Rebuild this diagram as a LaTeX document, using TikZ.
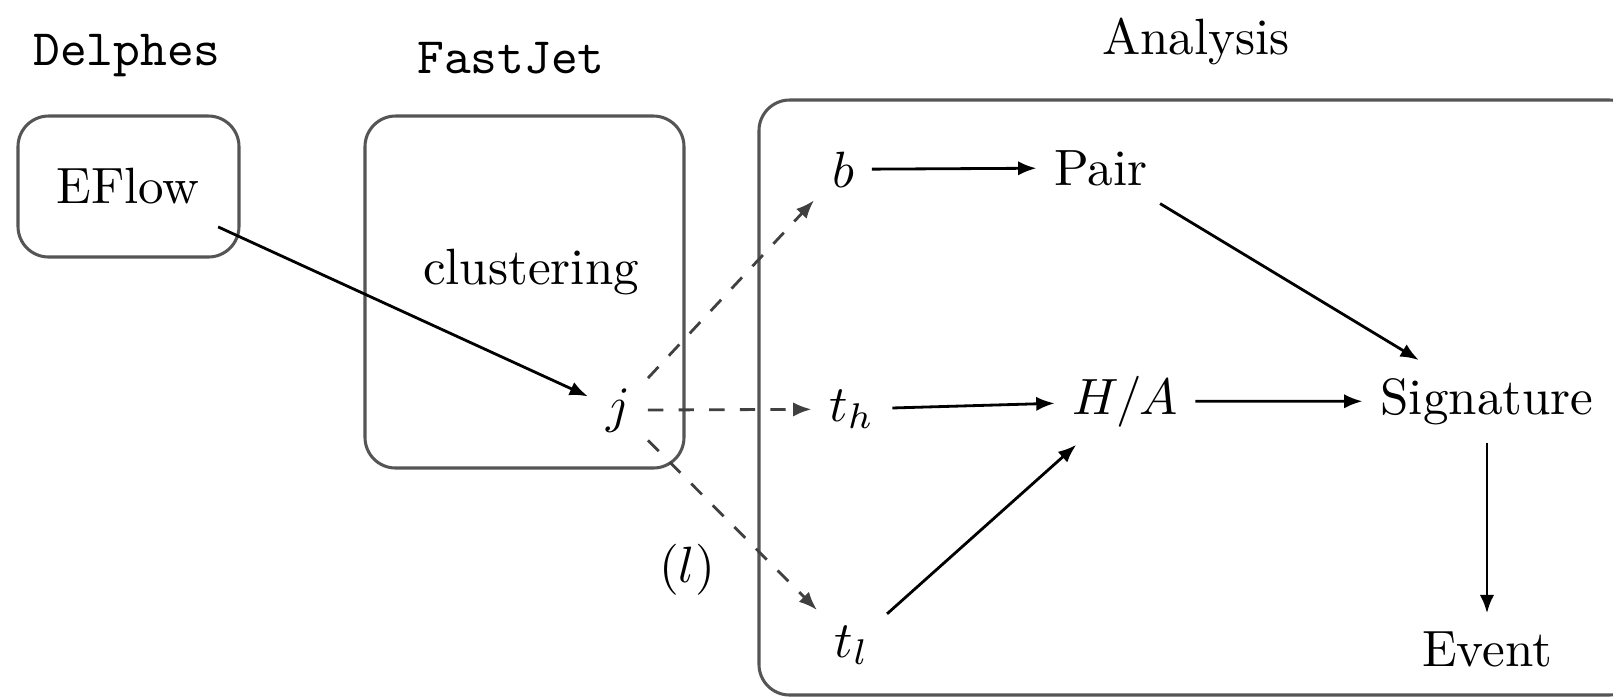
\documentclass[tikz,border=0pt]{standalone}
\usepackage{amsmath}
\usepackage{xcolor}
\usetikzlibrary{arrows.meta,positioning}
\definecolor{framegray}{HTML}{555555}

\begin{document}
\begin{tikzpicture}[
  x=0.196pt,y=-0.196pt,
  grp/.style={draw=framegray,line width=0.6pt,rounded corners=6pt},
  lbl/.style={anchor=base},
  arr/.style={-{Latex[length=3.6pt,width=2.8pt]},line width=0.55pt},
  darr/.style={arr,dashed,draw=black!75}
]
\clip (0,0) rectangle (1613,696);
% group frames
\draw[grp] (18,116) rectangle (239,257);
\draw[grp] (365,116) rectangle (684,468);
\draw[grp] (759,100) rectangle (1640,695);
% titles
\node[lbl,font=\ttfamily] (delphes) at (127,65) {Delphes};
\node[lbl,font=\ttfamily] (fastjet) at (511,73) {FastJet};
\node[lbl] (analysis) at (1196,54) {Analysis};
% objects
\node[lbl] (eflow) at (128,203) {EFlow};
\node[lbl] (clust) at (531,284) {clustering};
\node[lbl] (j) at (618,422) {$j$};
\node[lbl] (b) at (843,187) {$b$};
\node[lbl] (th) at (852,421) {$t_h$};
\node[lbl] (tl) at (852,657) {$t_l$};
\node[lbl] (lep) at (687,582) {$(l)$};
\node[lbl] (pair) at (1101,185) {Pair};
\node[lbl] (ha) at (1125,414) {$H/A$};
\node[lbl] (sig) at (1487,414) {Signature};
\node[lbl] (event) at (1487,666) {Event};
% connections
\draw[arr,shorten <=2.5pt] (eflow) -- (j);
\draw[darr] (j) -- (b);
\draw[darr] (j) -- (th);
\draw[darr] (j) -- (tl);
\draw[arr] (b) -- (pair);
\draw[arr] (th) -- (ha);
\draw[arr] (tl) -- (ha);
\draw[arr] (pair) -- (sig);
\draw[arr] (ha) -- (sig);
\draw[arr] (sig) -- (event);
\end{tikzpicture}
\end{document}
